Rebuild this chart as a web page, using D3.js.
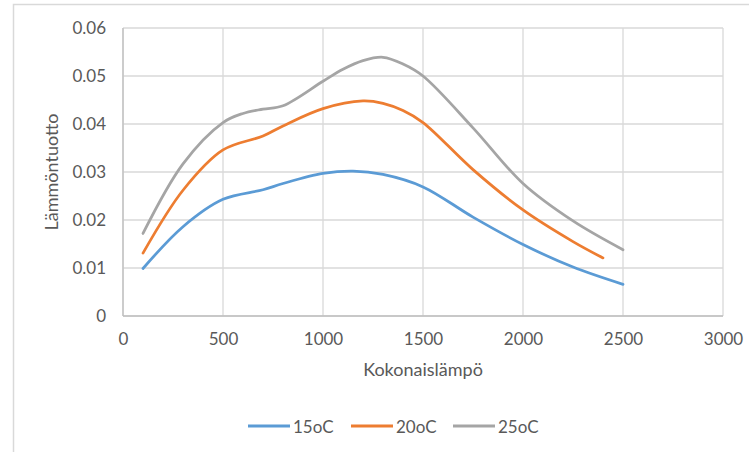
<!DOCTYPE html>
<html>
<head>
<meta charset="utf-8">
<script src="https://cdn.jsdelivr.net/npm/d3@7"></script>
<style>
  html, body { margin: 0; padding: 0; background: #fff; }
  svg { display: block; }
  text { font-family: Lato, "Open Sans", sans-serif; fill: #595959; }
</style>
</head>
<body>
<svg id="chart" width="749" height="452"></svg>
<script>
// Lämmöntuotto kokonaislämmön funktiona kolmessa lämpötilassa
const seriesNames = ["15oC", "20oC", "25oC"];
const seriesColors = ["#5B9BD5", "#ED7D31", "#A5A5A5"];

const x15 = [100, 300, 500, 700, 800, 1000, 1150, 1300, 1500, 1750, 2000, 2250, 2500];
const y15 = [0.0099, 0.0186, 0.0243, 0.0263, 0.0276, 0.0297, 0.0302, 0.0295, 0.0269, 0.0206, 0.0149, 0.0102, 0.0066];

const x20 = [100, 300, 500, 700, 800, 1000, 1200, 1300, 1400, 1500, 1750, 2000, 2250, 2400];
const y20 = [0.0131, 0.0262, 0.0346, 0.0375, 0.0396, 0.0432, 0.0448, 0.0443, 0.0428, 0.0403, 0.0305, 0.0221, 0.0155, 0.0121];

const x25 = [100, 300, 500, 600, 700, 800, 1000, 1100, 1200, 1300, 1400, 1500, 1750, 2000, 2250, 2500];
const y25 = [0.0172, 0.0317, 0.0403, 0.0422, 0.0431, 0.0438, 0.0489, 0.0514, 0.0532, 0.0539, 0.0525, 0.0500, 0.0392, 0.0276, 0.0198, 0.0138];

const xTicks = [0, 500, 1000, 1500, 2000, 2500, 3000];
const yTicks = [0, 0.01, 0.02, 0.03, 0.04, 0.05, 0.06];

const xTitle = "Kokonaislämpö";
const yTitle = "Lämmöntuotto";

const series = [
  { name: seriesNames[0], color: seriesColors[0], xs: x15, ys: y15 },
  { name: seriesNames[1], color: seriesColors[1], xs: x20, ys: y20 },
  { name: seriesNames[2], color: seriesColors[2], xs: x25, ys: y25 }
];

const svg = d3.select("#chart");

// chart area frame (continues past the right and bottom edges)
svg.append("rect")
  .attr("x", 13.5).attr("y", 4.5)
  .attr("width", 900).attr("height", 600)
  .attr("fill", "none").attr("stroke", "#D9D9D9").attr("stroke-width", 1.5);

const plot = { left: 123, right: 723, top: 28, bottom: 316 };

const x = d3.scaleLinear().domain([0, 3000]).range([plot.left, plot.right]);
const y = d3.scaleLinear().domain([0, 0.06]).range([plot.bottom, plot.top]);

// gridlines
const grid = svg.append("g");
grid.selectAll("line.h").data(yTicks).join("line")
  .attr("x1", plot.left).attr("x2", plot.right)
  .attr("y1", d => y(d)).attr("y2", d => y(d))
  .attr("stroke", "#D9D9D9").attr("stroke-width", 1.3);
grid.selectAll("line.v").data(xTicks).join("line")
  .attr("y1", plot.top).attr("y2", plot.bottom)
  .attr("x1", d => x(d)).attr("x2", d => x(d))
  .attr("stroke", "#D9D9D9").attr("stroke-width", 1.3);

// axis lines
svg.append("line")
  .attr("x1", plot.left).attr("x2", plot.right)
  .attr("y1", plot.bottom).attr("y2", plot.bottom)
  .attr("stroke", "#BFBFBF").attr("stroke-width", 1.3);
svg.append("line")
  .attr("x1", plot.left).attr("x2", plot.left)
  .attr("y1", plot.top).attr("y2", plot.bottom)
  .attr("stroke", "#BFBFBF").attr("stroke-width", 1.3);

// axes (labels only)
const yAxis = svg.append("g")
  .attr("transform", `translate(${plot.left},0)`)
  .call(d3.axisLeft(y).tickValues(yTicks).tickSize(0).tickPadding(17)
    .tickFormat(d => d === 0 ? "0" : d3.format(".2f")(d)));
yAxis.select(".domain").remove();
yAxis.selectAll("text").style("font-size", "17px").attr("fill", "#595959")
  .style("font-family", "Lato, sans-serif");

const xAxis = svg.append("g")
  .attr("transform", `translate(0,${plot.bottom})`)
  .call(d3.axisBottom(x).tickValues(xTicks).tickSize(0).tickPadding(17)
    .tickFormat(d3.format("d")));
xAxis.select(".domain").remove();
xAxis.selectAll("text").style("font-size", "17px").attr("fill", "#595959")
  .style("font-family", "Lato, sans-serif");

// axis titles
svg.append("text")
  .attr("x", (plot.left + plot.right) / 2).attr("y", 376)
  .attr("text-anchor", "middle")
  .style("font-size", "18px")
  .text(xTitle);
svg.append("text")
  .attr("transform", `translate(58,${(plot.top + plot.bottom) / 2}) rotate(-90)`)
  .attr("text-anchor", "middle")
  .style("font-size", "18px")
  .text(yTitle);

// smoothed series lines
const line = d3.line()
  .x(d => x(d[0]))
  .y(d => y(d[1]))
  .curve(d3.curveCatmullRom.alpha(0.5));

svg.append("g").selectAll("path").data(series).join("path")
  .attr("d", s => line(s.xs.map((v, i) => [v, s.ys[i]])))
  .attr("fill", "none")
  .attr("stroke", s => s.color)
  .attr("stroke-width", 2.75)
  .attr("stroke-linecap", "round")
  .attr("stroke-linejoin", "round");

// legend
const legendStarts = [248, 351, 453];
const lg = svg.append("g").selectAll("g").data(series).join("g")
  .attr("transform", (s, i) => `translate(${legendStarts[i]},426)`);
lg.append("line")
  .attr("x1", 0).attr("x2", 42).attr("y1", 0).attr("y2", 0)
  .attr("stroke", s => s.color).attr("stroke-width", 3);
lg.append("text")
  .attr("x", 45).attr("y", 6.5)
  .style("font-size", "17px")
  .text(s => s.name);
</script>
</body>
</html>
